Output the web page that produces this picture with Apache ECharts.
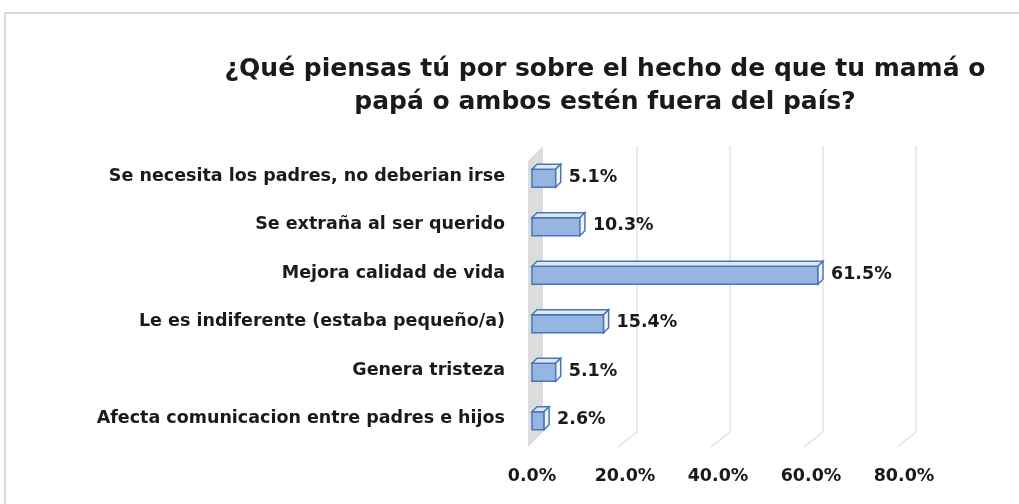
<!DOCTYPE html>
<html>
<head>
<meta charset="utf-8">
<script src="https://cdn.jsdelivr.net/npm/echarts@6/dist/echarts.min.js"></script>
<style>
  html, body { margin: 0; padding: 0; background: #fff; }
  #main { width: 1019px; height: 504px; }
</style>
</head>
<body>
<div id="main"></div>
<script>
// datos
const categorias = [
  'Se necesita los padres, no deberian irse',
  'Se extraña al ser querido',
  'Mejora calidad de vida',
  'Le es indiferente (estaba pequeño/a)',
  'Genera tristeza',
  'Afecta comunicacion entre padres e hijos'
];
const porcentajes = [5.1, 10.3, 61.5, 15.4, 5.1, 2.6];
const ticks = [0, 20, 40, 60, 80];

const FONT = '"DejaVu Sans", sans-serif';
const myChart = echarts.init(document.getElementById('main'));

// pared y lineas de fondo con efecto 3D
function renderFondo(params, api) {
  const cs = params.coordSys;
  const top = cs.y - 6, backBottom = cs.y + cs.height - 11, frontBottom = backBottom + 15;
  const children = [];
  const x0 = api.coord([0, 0])[0];
  children.push({
    type: 'polygon',
    shape: { points: [[x0 - 4, top + 15], [x0 + 11, top], [x0 + 11, backBottom], [x0 - 4, frontBottom]] },
    style: { fill: '#dcdcdc' }
  });
  ticks.forEach(function (t) {
    if (t === 0) return;
    const x = api.coord([t, 0])[0];
    children.push({
      type: 'polyline',
      shape: { points: [[x + 12, top], [x + 12, backBottom], [x - 7, frontBottom]] },
      style: { stroke: '#dedede', lineWidth: 1.2, fill: null }
    });
  });
  return { type: 'group', children: children };
}

// barras 3D
function renderBarra(params, api) {
  const cat = api.value(1);
  const v = api.value(0);
  const a = api.coord([0, cat]);
  const b = api.coord([v, cat]);
  const h = 18, dx = 5, dy = -5;
  const y1 = a[1] - h / 2 + 2, y2 = y1 + h;
  const borde = '#4a76b4';
  return {
    type: 'group',
    children: [
      { type: 'rect', shape: { x: a[0], y: y1, width: b[0] - a[0], height: h },
        style: { fill: '#95b6e2', stroke: borde, lineWidth: 1.5 } },
      { type: 'polygon', shape: { points: [[a[0], y1], [a[0] + dx, y1 + dy], [b[0] + dx, y1 + dy], [b[0], y1]] },
        style: { fill: '#dde8f6', stroke: borde, lineWidth: 1.5 } },
      { type: 'polygon', shape: { points: [[b[0], y1], [b[0] + dx, y1 + dy], [b[0] + dx, y2 + dy], [b[0], y2]] },
        style: { fill: '#eef3fb', stroke: borde, lineWidth: 1.5 } },
      { type: 'text', x: b[0] + dx + 8, y: a[1] + 1,
        style: { text: v.toFixed(1) + '%', fill: '#1a1a1a', font: 'bold 17.5px ' + FONT, verticalAlign: 'middle', align: 'left' } }
    ]
  };
}

const option = {
  backgroundColor: '#fff',
  title: {
    text: '¿Qué piensas tú por sobre el hecho de que tu mamá o\npapá o ambos estén fuera del país?',
    left: 600,
    top: 48,
    textAlign: 'center',
    textStyle: { fontFamily: FONT, fontWeight: 'bold', fontSize: 25, lineHeight: 33, color: '#1a1a1a' }
  },
  graphic: [
    { type: 'polyline', shape: { points: [[5, 504], [5, 13], [1019, 13]] },
      style: { stroke: '#d9d9d9', lineWidth: 2, fill: null } }
  ],
  grid: { left: 532, right: 115, top: 152, height: 291 },
  xAxis: {
    type: 'value',
    min: 0, max: 80, interval: 20,
    axisLine: { show: false }, axisTick: { show: false }, splitLine: { show: false },
    axisLabel: { margin: 24, color: '#1a1a1a', fontFamily: FONT, fontWeight: 'bold', fontSize: 17.5,
      formatter: function (v) { return v.toFixed(1) + '%'; } }
  },
  yAxis: {
    type: 'category',
    data: categorias,
    inverse: true,
    axisLine: { show: false }, axisTick: { show: false },
    axisLabel: { margin: 27, color: '#1a1a1a', fontFamily: FONT, fontWeight: 'bold', fontSize: 17.5 }
  },
  series: [
    { type: 'custom', renderItem: renderFondo, data: [[0, 0]], silent: true, z: 1 },
    { type: 'custom', renderItem: renderBarra, z: 2,
      encode: { x: 0, y: 1 },
      data: porcentajes.map(function (p, i) { return [p, i]; }) }
  ]
};
myChart.setOption(option);
</script>
</body>
</html>
